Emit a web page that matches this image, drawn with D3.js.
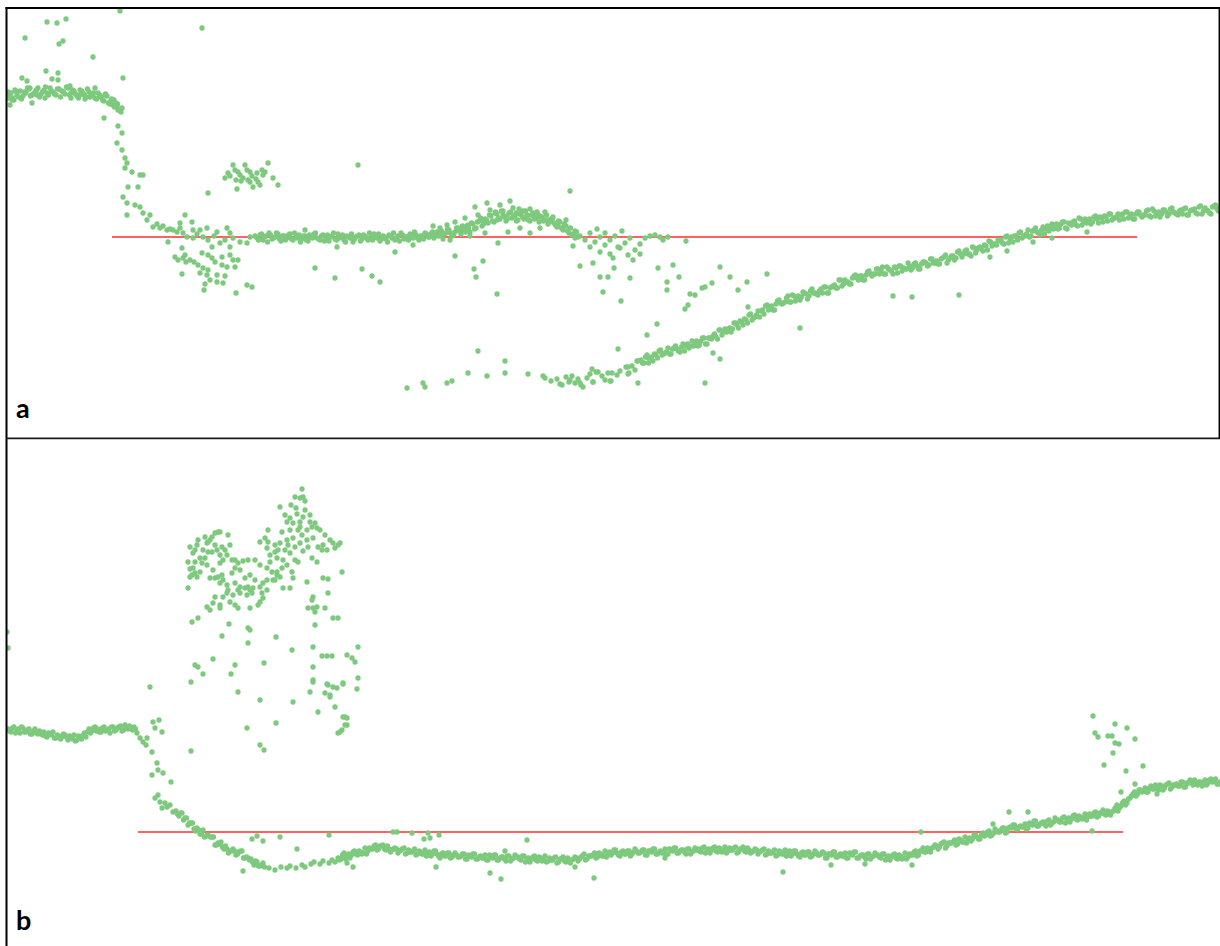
<!DOCTYPE html>
<html>
<head>
<meta charset="utf-8">
<script src="https://cdn.jsdelivr.net/npm/d3@7"></script>
<style>
  html, body { margin: 0; padding: 0; background: #ffffff; }
  svg { display: block; }
</style>
</head>
<body>
<svg id="chart" width="1220" height="946"></svg>
<script>
// ---------------------------------------------------------------
// Data. Time runs 0..1212; regular tracks are sampled every 3 units,
// with a repeat reading taken half a sample (1.5 units) later.
// Values are in the native unit of each run (a: 0..430, b: 0..508).
// ---------------------------------------------------------------
const sampleStep = 3;
const repeatOffset = 1.5;
const timeExtent = [0, 1212];
const aValueExtent = [0, 430];
const bValueExtent = [0, 508];

// Run a: plateau before the drop (first sample 0)
const aPlateauStart = 0;
const aPlateau = [340,345,338,343,347,342,345,349,343,346,350,344,348,345,350,346,343,349,347,344,
  350,345,347,342,348,345,341,346,343,340,345,341,337,342,336,333,335,328,330];
const aPlateauRepeat = [344,340,347,341,339,346,350,342,344,348,341,346,351,343,347,344,349,341,346,351,
  343,348,344,340,347,343,349,342,345,339,343,338,344,335,339,331,334];

// Run a: settled level with the bump (first sample 83)
const aSettledStart = 83;
const aSettled = [
  200,203,198,202,205,199,201,204,197,202,
  200,204,198,201,203,199,202,197,201,204,
  200,198,203,200,197,202,199,204,201,198,
  202,200,196,201,203,199,202,198,201,204,
  200,197,202,199,203,200,198,202,205,199,
  201,204,200,203,198,202,205,201,204,200,
  206,203,199,205,208,202,206,210,204,208,
  212,206,214,210,217,212,219,215,222,216,
  224,219,223,217,225,220,222,218,224,219,
  221,217,222,220,216,221,218,214,219,215,
  211,216,208,212,205,203,207,201];
const aSettledRepeat = [
  198,204,201,196,203,200,205,199,202,198,
  203,199,205,200,196,202,198,203,200,205,
  199,202,197,203,201,205,198,200,203,196,
  201,204,199,202,197,203,200,205,198,201,
  204,199,201,196,202,205,200,197,203,201,
  198,203,206,200,202,199,204,201,206,203,
  202,207,204,209,205,203,210,207,212,206,
  210,215,209,216,220,214,218,223,217,226,
  220,227,221,219,226,222,217,224,221,227,
  218,223,219,224,221,217,223,216,220,213,
  217,210,214,207,210,204,206];

// Run a: low branch recovering towards the end (first sample 179)
const aRecoveryStart = 179;
const aRecovery = [
  60,null,57,null,59,54,null,61,56,62,55,59,53,null,60,64,56,66,null,62,58,65,57,null,63,67,null,71,65,72,68,77,
  78,75,83,80,77,83,87,83,85,90,
  84,90,89,86,94,92,90,97,93,92,
  97,100,94,100,102,101,108,103,109,108,
  106,115,113,117,113,118,123,118,121,127,
  127,124,133,131,128,134,138,134,136,142,
  136,142,141,138,146,144,142,149,145,143,
  149,151,145,150,152,150,158,152,158,156,
  154,162,160,162,158,163,167,162,164,169,
  168,164,171,168,164,170,172,167,169,175,
  168,174,172,169,176,175,173,179,175,174,
  179,181,175,180,182,180,187,181,187,184,
  182,190,188,191,187,192,197,192,194,198,
  198,194,202,199,196,202,205,200,202,208,
  202,208,206,203,211,209,207,214,210,209,
  214,216,209,214,216,213,220,213,219,216,
  214,221,219,221,216,221,224,218,220,224,
  223,219,226,222,219,224,226,221,223,228,
  221,227,225,221,228,226,224,230,225,223,
  228,229,223,227,228,225,231,224,230,227,
  224,232,229,231];
// repeat readings of the low branch begin at sample 211
const aRecoveryRepeatStart = 211;
const aRecoveryRepeat = [
  75,81,75,81,84,80,88,84,86,84,
  89,92,87,91,87,94,92,92,97,93,
  100,94,100,99,104,99,108,106,106,110,
  109,115,110,116,119,115,124,120,123,121,
  128,132,128,132,128,137,135,135,140,136,
  143,137,142,141,145,139,147,145,144,147,
  145,151,145,151,153,150,158,154,156,154,
  160,163,158,162,158,166,164,164,169,164,
  171,164,169,167,171,165,172,170,169,172,
  170,175,169,174,176,172,179,175,177,174,
  180,183,178,182,178,186,184,184,188,184,
  191,185,190,189,193,188,196,194,193,197,
  195,201,195,201,202,198,206,202,204,201,
  207,210,205,208,204,212,210,209,214,210,
  216,210,215,213,217,212,219,217,215,219,
  216,222,215,220,222,217,224,220,221,218,
  224,226,220,224,219,226,223,223,227,222,
  229,222,226,224,228,222,229,226,224,227,
  224,230,223,228,229,224,232,227,228,225,
  231,233,227];

// Run a: irregular readings as [time, value] pairs
const aScattered = [
  17,400, 39,416, 49,415, 58,419, 51,394, 55,397, 85,381, 112,427, 194,410, 38,367, 50,365, 14,360, 19,357,
  44,359, 50,358, 115,360, 96,320, 24,335, 63,340,
  4,338, 2,333, 7,348, 22,350, 37,340, 62,352, 77,339, 87,350, 92,342, 97,343, 102,334, 106,338, 109,332,
  110,328, 113,326, 0,346, 29,343, 72,343, 82,341,
  110,312, 114,305, 109,295, 114,288, 117,280, 119,275, 117,270, 124,266, 135,263, 132,263, 120,251, 130,251,
  115,241, 119,235, 127,233, 132,231, 119,223, 135,225, 139,218, 142,223, 145,211, 149,214, 152,210, 155,212,
  159,208, 162,209, 165,208, 169,206, 172,210, 175,205, 177,223, 184,216, 172,215, 185,208, 192,208, 199,210,
  209,206, 219,210, 222,205, 185,200, 200,198, 212,195, 225,200, 232,196, 239,195, 160,196, 179,201, 195,201,
  204,191, 222,191, 242,201, 247,202, 189,204, 206,202, 217,198,
  167,181, 174,190, 175,180, 170,178, 182,178, 194,185, 200,183, 204,180, 214,181, 222,183, 225,178, 230,178,
  190,173, 195,170, 200,168, 192,165, 199,163, 209,163, 214,173, 219,171, 227,171, 174,164, 202,158, 209,156,
  215,155, 196,148, 228,145, 239,153, 244,151, 178,176, 186,176, 207,176, 177,183, 217,162, 197,154,
  225,273, 237,273, 260,275, 220,265, 230,266, 242,266, 249,265, 255,263, 217,260, 235,260, 242,256, 245,251,
  252,253, 229,249, 265,260, 270,253, 200,245, 227,268, 232,263, 239,268, 244,262, 248,259, 254,268, 222,262,
  240,258, 250,256, 233,257, 257,266, 228,258,
  307,170, 327,160, 354,169, 364,162, 372,156, 387,186, 329,191, 405,193, 350,273, 447,182, 466,169, 468,161,
  475,177, 489,144, 490,195, 562,247, 297,208,
  425,212, 432,210, 439,213, 447,216, 452,209, 457,220, 460,213, 467,231, 470,223, 475,218, 479,235, 482,228,
  487,225, 489,218, 492,233, 495,227, 499,222, 502,237, 505,230, 508,225, 511,229, 515,227, 519,223, 522,229,
  525,225, 529,226, 532,222, 537,226, 540,218, 545,221, 550,214, 554,210, 558,218, 500,206, 477,205, 462,202,
  442,198, 512,210, 532,210, 522,205,
  567,200, 572,202, 577,198, 582,205, 587,196, 592,201, 597,193, 602,198, 607,202, 612,190, 617,195, 622,200,
  627,188, 632,194, 637,200, 642,202, 647,203, 652,201, 582,191, 592,186, 602,184, 610,191, 620,183, 625,178,
  632,184, 589,209, 597,205, 614,207, 655,198, 660,201, 678,197,
  565,192, 572,172, 585,175, 592,161, 595,146, 600,161, 605,180, 606,170, 613,137, 622,160, 650,170, 659,156,
  659,148, 665,173, 671,161, 677,129, 680,133, 682,144, 687,143, 694,150, 697,151, 704,155, 712,171, 722,161,
  730,148, 739,156, 740,131, 759,164, 705,85, 792,110, 885,142, 904,141, 951,143, 982,181, 999,187, 1025,196,
  1044,200, 1079,206,
  399,50, 415,55, 417,51, 439,55, 444,57, 460,65, 470,87, 479,62, 497,77, 497,65, 520,64, 535,62, 554,53,
  562,58, 572,55, 575,51, 584,69, 585,56, 590,66, 602,57, 604,65, 610,89, 620,71, 620,64, 629,77, 630,55,
  639,103, 640,80, 649,114, 697,55, 712,79];

// Run a: reference level and the time span it covers
const aReferenceSpan = [104, 1129];
const aReferenceValue = 201;

// Run b: level before the drop (first sample 0)
const bLeadStart = 0;
const bLead = [
  217,214,219,216,213,218,214,217,212,217,
  212,213,214,209,212,214,208,210,209,211,
  206,209,211,206,209,211,209,217,215,219,
  217,214,219,216,213,219,216,219,215,221,
  217,218,219,213];
const bLeadRepeat = [
  215,218,213,217,219,214,216,212,215,213,
  215,211,210,213,211,208,211,207,212,209,
  210,207,205,210,207,213,214,213,218,215,
  214,218,215,217,219,215,218,220,216,219,
  220,216,217];

// Run b: main track after the drop (first sample 56)
const bTrackStart = 56;
const bTrack = [
  135,130,133,128,121,123,117,118,112,116,
  110,110,109,101,103,104,97,97,95,97,
  91,94,95,88,88,87,81,84,80,83,
  null,78,null,76,null,79,null,78,80,null,
  78,null,81,79,null,82,84,null,82,85,
  null,83,86,84,
  88,87,93,91,88,94,92,95,92,98,
  95,97,100,96,100,101,96,97,96,98,
  93,96,98,93,94,95,91,95,92,96,
  93,90,95,92,88,93,90,93,89,93,
  89,90,92,87,90,92,87,89,88,91,
  86,89,91,86,88,89,85,90,87,91,
  89,86,90,87,84,89,86,89,85,90,
  85,86,88,83,87,89,84,86,86,89,
  85,89,92,87,90,91,88,93,90,95,
  93,91,96,93,90,95,92,95,92,97,
  93,94,96,91,95,97,92,94,93,97,
  92,96,98,93,95,96,92,97,94,98,
  97,94,99,96,93,98,95,98,94,99,
  95,96,98,93,97,99,94,96,94,97,
  92,95,97,92,93,94,90,95,92,96,
  94,90,95,92,89,94,91,94,90,95,
  91,92,93,88,92,94,89,91,90,93,
  88,92,94,88,90,91,87,92,89,93,
  91,88,92,89,86,91,88,91,87,93,
  89,91,94,90,95,98,94,97,98,101,
  97,102,104,100,103,104,101,107,104,109,
  107,105,111,109,107,113,111,115,111,117,
  114,116,118,114,119,121,117,119,119,122,
  118,122,125,120,122,124,120,126,123,128,
  126,124,129,127,124,130,127,130,127,132,
  129,130,133,129,133,136,131,134,134,138,
  135,140,145,143,148,152,150,156,154,158,
  154,160,157,158,161,156,161,163,159,161,
  160,164,159,163,166,161,163,164,160,166,
  163,167,165,162,164];
const bTrackRepeat = [
  132,133,126,128,123,123,115,116,112,109,
  111,109,109,101,102,99,100,93,95,95,
  92,95,88,89,86,84,85,80,81,79,
  null,null,null,null,null,null,null,null,null,null,
  null,null,null,null,null,null,null,null,null,null,
  null,null,null,null,
  86,91,87,92,91,95,91,94,93,92,
  98,97,101,97,100,97,100,94,97,97,
  95,97,92,96,94,97,92,94,92,90,
  94,92,95,90,92,90,93,88,91,91,
  89,92,87,91,89,92,87,90,88,86,
  91,88,91,86,89,87,90,85,88,89,
  87,90,84,88,87,90,85,88,86,84,
  88,86,89,84,87,85,88,83,87,88,
  87,90,86,90,90,93,89,92,90,89,
  94,93,96,91,94,92,95,90,94,95,
  93,96,91,95,94,97,92,95,93,92,
  97,95,98,93,96,94,97,92,95,96,
  95,98,93,97,96,99,94,97,95,93,
  98,96,99,94,97,95,98,93,95,96,
  94,96,91,95,93,96,91,94,92,90,
  95,92,95,90,93,91,94,89,92,93,
  91,94,88,92,91,94,89,92,90,88,
  93,91,94,88,91,89,92,87,90,91,
  89,92,86,90,89,92,87,90,88,87,
  92,91,95,91,95,94,98,94,99,100,
  99,103,98,103,103,106,102,106,104,103,
  108,107,111,107,111,110,114,110,113,115,
  114,118,113,118,118,121,117,120,119,117,
  123,121,125,120,123,122,125,121,124,126,
  124,128,123,128,127,131,126,129,128,126,
  132,130,134,130,133,132,135,131,135,137,
  138,143,141,147,150,154,152,156,155,154,
  158,157,161,156,160,158,162,157,161,162,
  160,164,159,163,163,166,161,164,162,161,
  166,164,167,162];

// Run b: irregular readings as [time, value] pairs
const bScattered = [
  135,204, 139,208, 145,224, 151,226, 147,218, 154,214, 142,259, 144,194, 149,183, 150,176, 144,171, 155,173,
  163,164, 147,148, 152,144, 159,139, 165,134, 157,143, 150,151, 183,195, 132,208, 138,201, 162,141, 154,138,
  244,107, 249,110, 255,105, 272,109, 321,111, 289,97, 235,75, 339,83, 345,79, 385,114, 389,114, 404,113,
  416,107, 420,113, 422,108, 431,111, 519,106, 497,95, 428,79, 482,73, 493,67, 567,79, 586,68, 657,88,
  775,74, 823,81, 857,82, 904,81, 913,114, 985,122, 1001,134, 1020,134, 1084,115,
  1085,230, 1087,213, 1090,209, 1107,222, 1100,210, 1104,210, 1107,203, 1111,202, 1105,193, 1119,218,
  1127,207, 1096,181, 1118,175, 1135,180, 1113,154, 1127,162, 1109,141, 1149,152,
  -1,314, 0,298,
  183,264, 230,254, 252,246, 285,244, 305,264, 302,254, 320,261, 325,259, 335,262, 322,251, 349,257, 310,234,
  327,239, 337,229, 339,221, 334,216, 330,213, 268,223, 239,218, 252,201, 256,196];

// Run b: burst of high readings early in the run, [time, value] pairs
const bBurst = [
  294,457, 287,449, 292,448, 297,445, 295,449, 272,439, 283,441, 289,432, 295,429, 282,428, 279,424, 285,423,
  292,424, 302,424, 307,423, 304,419, 309,418, 299,416, 290,416, 282,416, 294,411, 285,408, 279,406, 299,406,
  305,408, 292,403, 287,399, 300,399, 310,399, 315,401, 322,406, 325,403, 330,401, 319,396, 314,396, 295,395,
  274,414, 272,403, 277,396, 270,396, 267,394, 262,391, 282,393, 275,386, 287,386, 290,384, 304,388, 309,384,
  260,404, 260,416, 257,408, 252,404, 259,398, 269,388, 262,384, 259,378, 264,374, 269,374, 272,369, 265,366,
  259,366, 252,381, 247,386, 240,386, 235,385, 227,386, 220,411, 212,414, 207,413, 204,409, 200,404, 199,403,
  190,406, 189,401, 187,396, 195,396, 200,394, 204,394, 209,396, 214,399, 217,396, 219,391, 212,391, 215,386,
  212,383, 224,386, 230,383, 227,378, 224,373, 205,376, 199,381, 194,383, 187,384, 180,384, 185,378, 187,373,
  182,369, 189,369, 180,358, 192,388, 202,368, 207,368, 210,369, 215,366, 212,363, 219,361, 220,356, 227,363,
  232,359, 237,358, 240,359, 245,358, 252,359, 255,363, 259,356, 254,353, 255,348, 252,344, 267,366, 269,371,
  274,378, 279,381, 284,374, 275,358, 282,358, 285,368, 230,356, 225,351, 219,353, 215,349, 222,344, 227,341,
  230,338, 207,349, 205,343, 212,341, 199,339, 202,336, 212,338, 242,338, 250,341, 242,356, 232,353, 239,351,
  244,353, 315,368, 320,367, 334,374, 299,364, 320,353, 305,349, 304,346, 300,338, 305,338, 307,334, 309,339,
  317,338, 307,321, 325,328, 330,328, 305,299, 314,290, 319,290, 324,290, 339,291, 344,288, 347,284, 350,299,
  305,279, 305,266, 319,262, 329,258, 335,263, 350,268, 317,253, 322,249, 335,229, 339,228, 337,221, 332,214,
  284,296, 268,309, 256,283, 227,281, 223,272, 214,310, 221,322, 240,318, 242,316, 240,303, 205,287, 187,281,
  190,279, 195,272, 184,324, 190,328, 197,409, 202,406, 210,414, 182,377, 184,371, 192,374, 214,371, 182,399,
  185,393, 297,436, 288,438, 277,431, 302,431, 312,416, 317,411, 327,398, 332,403, 292,419, 280,401, 267,401,
  232,376, 242,371, 247,366, 237,368, 222,401, 197,388, 207,401];

// Run b: reference level and the time span it covers
const bReferenceSpan = [130, 1115];
const bReferenceValue = 114;

// ---------------------------------------------------------------
// Helpers
// ---------------------------------------------------------------
function track(values, start, offset) {
  const pts = [];
  values.forEach((v, i) => {
    if (v !== null) pts.push([(start + i) * sampleStep + (offset || 0), v]);
  });
  return pts;
}
function pairs(flat) {
  const pts = [];
  for (let i = 0; i < flat.length; i += 2) pts.push([flat[i], flat[i + 1]]);
  return pts;
}

// ---------------------------------------------------------------
// Layout
// ---------------------------------------------------------------
const frameLeft = 7, frameRight = 1220, frameTop = 8, frameSplit = 438, frameBottom = 946;
const dotColor = "#7dc97d";
const refColor = "#ff5a5a";
const dotR = 2.65;

const svg = d3.select("#chart");
const x = d3.scaleLinear().domain(timeExtent).range([8, 1220]);

const panels = [
  {
    id: "a", label: "a", y0: frameTop, y1: frameSplit,
    y: d3.scaleLinear().domain(aValueExtent).range([frameSplit, frameTop]),
    points: [].concat(
      track(aPlateau, aPlateauStart), track(aPlateauRepeat, aPlateauStart, repeatOffset),
      track(aSettled, aSettledStart), track(aSettledRepeat, aSettledStart, repeatOffset),
      track(aRecovery, aRecoveryStart), track(aRecoveryRepeat, aRecoveryRepeatStart, repeatOffset),
      pairs(aScattered)),
    refSpan: aReferenceSpan, refValue: aReferenceValue, labelBase: 418
  },
  {
    id: "b", label: "b", y0: frameSplit, y1: frameBottom,
    y: d3.scaleLinear().domain(bValueExtent).range([frameBottom, frameSplit]),
    points: [].concat(
      track(bLead, bLeadStart), track(bLeadRepeat, bLeadStart, repeatOffset),
      track(bTrack, bTrackStart), track(bTrackRepeat, bTrackStart, repeatOffset),
      pairs(bScattered), pairs(bBurst)),
    refSpan: bReferenceSpan, refValue: bReferenceValue, labelBase: 930
  }
];

const defs = svg.append("defs");

panels.forEach(p => {
  defs.append("clipPath").attr("id", "clip-" + p.id)
    .append("rect").attr("x", frameLeft).attr("y", p.y0)
    .attr("width", frameRight - frameLeft).attr("height", p.y1 - p.y0);

  const g = svg.append("g").attr("clip-path", `url(#clip-${p.id})`);

  // reference level
  g.append("line")
    .attr("x1", x(p.refSpan[0])).attr("x2", x(p.refSpan[1]))
    .attr("y1", p.y(p.refValue)).attr("y2", p.y(p.refValue))
    .attr("stroke", refColor).attr("stroke-width", 2).attr("stroke-opacity", 0.95);

  // readings
  g.selectAll("circle").data(p.points).join("circle")
    .attr("cx", d => x(d[0]))
    .attr("cy", d => p.y(d[1]))
    .attr("r", dotR)
    .attr("fill", dotColor);

  // panel letter
  svg.append("text")
    .attr("x", 16).attr("y", p.labelBase)
    .attr("font-family", "Lato, 'Open Sans', sans-serif")
    .attr("font-weight", 700)
    .attr("font-size", 27)
    .attr("fill", "#000")
    .text(p.label);
});

// frame
const frame = svg.append("g").attr("fill", "none");
frame.append("line").attr("x1", 6.5).attr("x2", 6.5).attr("y1", 7).attr("y2", frameBottom)
  .attr("stroke", "#000").attr("stroke-width", 2);
frame.append("line").attr("x1", 5.5).attr("x2", frameRight).attr("y1", 8).attr("y2", 8)
  .attr("stroke", "#000").attr("stroke-width", 2);
frame.append("line").attr("x1", 6).attr("x2", frameRight).attr("y1", 438.3).attr("y2", 438.3)
  .attr("stroke", "#1a1a1a").attr("stroke-width", 1.7);
frame.append("line").attr("x1", 1219.3).attr("x2", 1219.3).attr("y1", 7).attr("y2", 438)
  .attr("stroke", "#000").attr("stroke-width", 1.5);
</script>
</body>
</html>
